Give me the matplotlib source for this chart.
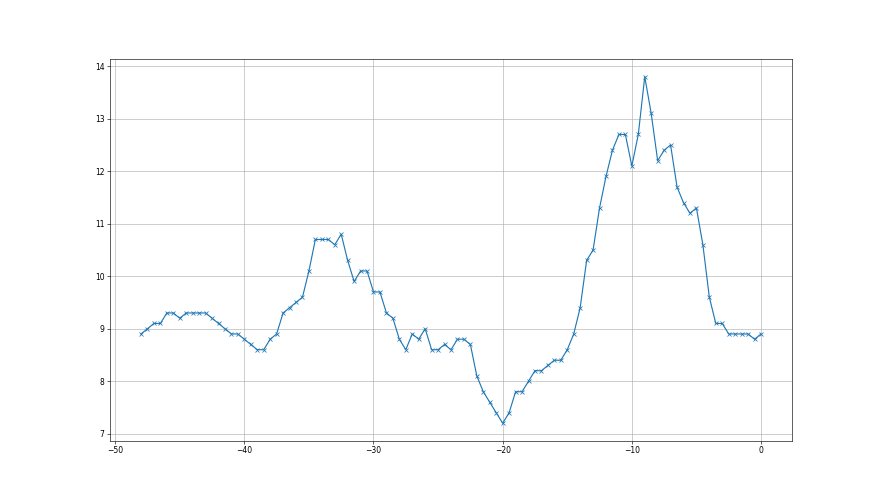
import numpy as np
import matplotlib
matplotlib.use("Agg")
import matplotlib.pyplot as plt

# x runs from -48 to 0 in steps of 0.5
x_values = np.arange(-48, 0.5, 0.5)
y_values = [
    8.9, 9.0, 9.1, 9.1, 9.3, 9.3, 9.2, 9.3, 9.3, 9.3,
    9.3, 9.2, 9.1, 9.0, 8.9, 8.9, 8.8, 8.7, 8.6, 8.6,
    8.8, 8.9, 9.3, 9.4, 9.5, 9.6, 10.1, 10.7, 10.7, 10.7,
    10.6, 10.8, 10.3, 9.9, 10.1, 10.1, 9.7, 9.7, 9.3, 9.2,
    8.8, 8.6, 8.9, 8.8, 9.0, 8.6, 8.6, 8.7, 8.6, 8.8,
    8.8, 8.7, 8.1, 7.8, 7.6, 7.4, 7.2, 7.4, 7.8, 7.8,
    8.0, 8.2, 8.2, 8.3, 8.4, 8.4, 8.6, 8.9, 9.4, 10.3,
    10.5, 11.3, 11.9, 12.4, 12.7, 12.7, 12.1, 12.7, 13.8, 13.1,
    12.2, 12.4, 12.5, 11.7, 11.4, 11.2, 11.3, 10.6, 9.6, 9.1,
    9.1, 8.9, 8.9, 8.9, 8.9, 8.8, 8.9,
]

fig = plt.figure(figsize=(16, 9), dpi=55)
plt.plot(x_values, y_values, "x-")
plt.grid(True)
plt.savefig("out.png", dpi=55)
